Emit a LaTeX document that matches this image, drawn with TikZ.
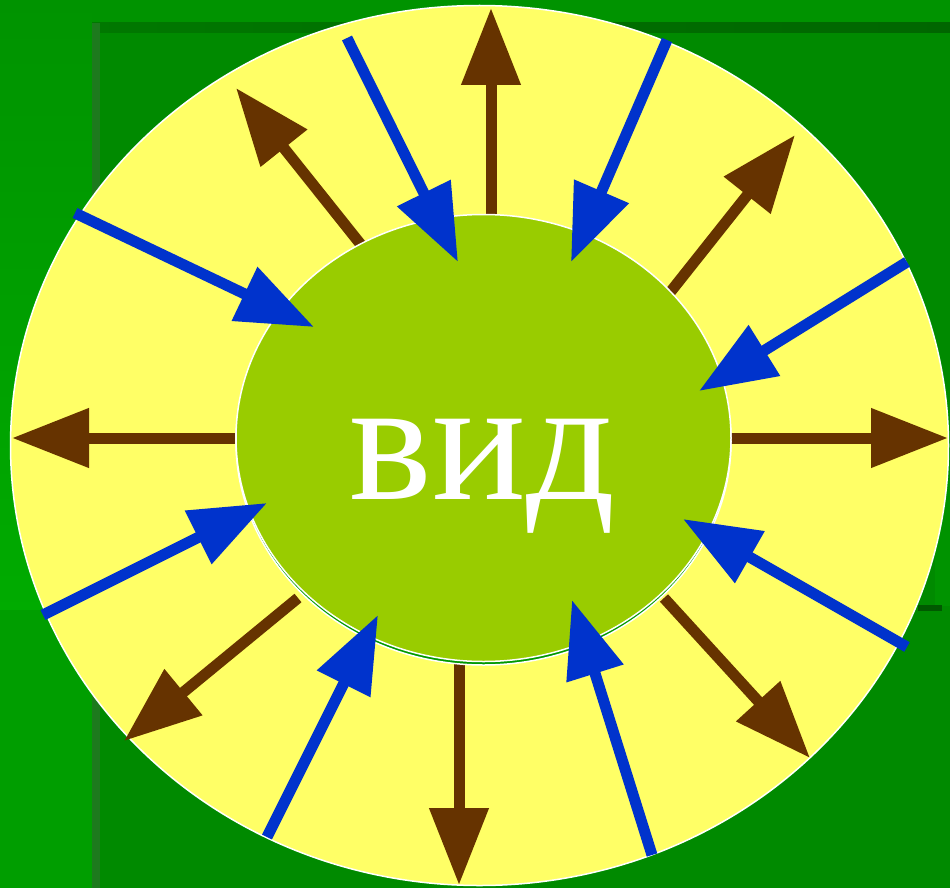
\documentclass[tikz,border=0pt]{standalone}
\usepackage{fontspec}
\setmainfont{Liberation Serif}
\usetikzlibrary{arrows.meta}
\definecolor{bggreen}{HTML}{009300}
\definecolor{stripgreen}{HTML}{009E00}
\definecolor{boardgreen}{HTML}{008A00}
\definecolor{edgegreen}{HTML}{1D7A1D}
\definecolor{ringyellow}{HTML}{FFFF66}
\definecolor{coregreen}{HTML}{99CC00}
\definecolor{shadowgreen}{HTML}{009900}
\definecolor{outbrown}{HTML}{663300}
\definecolor{inblue}{HTML}{0033CC}
\tikzset{
    outarrow/.style={outbrown,line width=11pt,-{Triangle[length=77pt,width=57pt]}},
    inarrow/.style={inblue,line width=11pt,-{Triangle[length=77pt,width=57pt]}}
}

\begin{document}
\begin{tikzpicture}[x=1pt,y=-1pt]
        \useasboundingbox (0,0) rectangle (950,888);
        % background boards
        \fill[bggreen] (0,0) rectangle (950,888);
        \shade[top color=bggreen,bottom color=green!67!black] (0,0) rectangle (92,610);
        \fill[stripgreen] (0,610) rectangle (92,888);
        \fill[boardgreen] (92,23) rectangle (950,888);
        \shade[left color=green!47!black,right color=green!40!black] (92,23) rectangle (950,33);
        \fill[edgegreen] (92,23) rectangle (100,888);
        \fill[bggreen] (935,480) rectangle (950,606);
        \fill[green!35!black] (918,605) rectangle (942,611);
        % ring
        \draw[white,line width=1.5pt,fill=ringyellow] (479.5,445.5) ellipse [x radius=469, y radius=440];
        \foreach \x/\y/\u/\v [count=\i] in {491/214/491/8, 362/246/236/88, 668/295/795/135, 235/438/12/438,
                                              731/438/948/438, 298/598/124/741, 459/663/459/885, 664/598/810/758}{
            \coordinate (out\i a) at (\x,\y);
            \coordinate (out\i b) at (\u,\v);
            \draw[outarrow] (out\i a)--(out\i b);
        }
        % core
        \draw[white,line width=1.5pt,fill=shadowgreen] (483.5,441.5) ellipse [x radius=247.5, y radius=223.5];
        \draw[white,line width=1.5pt,fill=coregreen] (483.5,438) ellipse [x radius=247.5, y radius=223.5];
        \foreach \x/\y/\u/\v [count=\i] in {347/38/458/262, 667/40/571/262, 75/213/314/327, 907/262/699/391,
                                              43/615/267/503, 907/647/683/519, 267/837/378/615, 652/855/572/600}{
            \coordinate (in\i a) at (\x,\y);
            \coordinate (in\i b) at (\u,\v);
            \draw[inarrow] (in\i a)--(in\i b);
        }
        \node[white,inner sep=0pt,anchor=base] (vid) at (482.5,499.5) {\fontsize{175}{175}\selectfont вид};
    \end{tikzpicture}
\end{document}
